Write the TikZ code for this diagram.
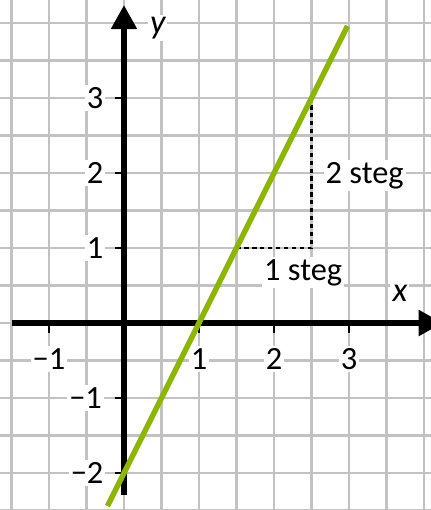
\documentclass[tikz,border=0pt]{standalone}
\usepackage{fontspec}
\setmainfont{Carlito}
\usetikzlibrary{arrows.meta}
\definecolor{lgreen}{RGB}{141,182,0}
\begin{document}
\begin{tikzpicture}[x=1cm,y=1cm,
  lbl/.style={fill=white, inner sep=0.8pt, font=\fontsize{12.3}{14}\selectfont},
  gridln/.style={draw=black!24, line width=0.85pt},
  axisln/.style={line width=2.2pt, -{Triangle[length=0.32cm,width=0.33cm]}},
  tickln/.style={line width=0.8pt},
  graphln/.style={draw=lgreen, line width=2.1pt},
  helpln/.style={dash pattern=on 1.6pt off 1.4pt, line width=1pt}]
\useasboundingbox (-1.653,-2.493) rectangle (4.093,4.307);
\fill[white] (-1.653,-2.493) rectangle (4.093,4.307);
\begin{scope}
\clip (-1.653,-2.493) rectangle (4.093,4.307);
\draw[gridln] (-2,-3) grid[step=0.5] (4.5,4.5);
\end{scope}
% labels
\node[lbl] (lxm1) at (-1,-0.48) {−1};
\node[lbl] (lx1) at (1,-0.48) {1};
\node[lbl] (lx2) at (2,-0.48) {2};
\node[lbl] (lx3) at (3,-0.48) {3};
\node[lbl, anchor=east] (ly3) at (-0.24,3) {3};
\node[lbl, anchor=east] (ly2) at (-0.24,2) {2};
\node[lbl, anchor=east] (ly1) at (-0.24,1) {1};
\node[lbl, anchor=east] (lym1) at (-0.26,-1) {−1};
\node[lbl, anchor=east] (lym2) at (-0.24,-2) {−2};
\node[lbl] (steg1) at (2.39,0.67) {1 steg};
\node[lbl] (steg2) at (3.21,1.97) {2 steg};
\node[lbl, font=\fontsize{13}{15}\selectfont\itshape] (ylab) at (0.45,3.93) {y};
\node[lbl, font=\fontsize{13}{15}\selectfont\itshape] (xlab) at (3.68,0.39) {x};
% ticks
\foreach \i in {-1,1,2,3} {
  \coordinate (tx\i) at (\i,0);
  \coordinate (txe\i) at (\i,-0.13);
  \draw[tickln] (tx\i) -- (txe\i);
}
\foreach \i in {-2,-1,1,2,3} {
  \coordinate (ty\i) at (0,\i);
  \coordinate (tye\i) at (-0.12,\i);
  \draw[tickln] (ty\i) -- (tye\i);
}
% axes
\coordinate (xs) at (-1.49,0);
\coordinate (xe) at (4.25,0);
\coordinate (ys) at (0,-2.29);
\coordinate (ye) at (0,4.24);
\draw[axisln] (xs) -- (xe);
\draw[axisln] (ys) -- (ye);
% helper lines
\coordinate (h1) at (1.5,1);
\coordinate (h2) at (2.5,1);
\coordinate (h3) at (2.5,3);
\draw[helpln] (h1) -- (h2) -- (h3);
% graph
\coordinate (g1) at (-0.22,-2.44);
\coordinate (g2) at (2.98,3.96);
\draw[graphln] (g1) -- (g2);
\end{tikzpicture}
\end{document}
